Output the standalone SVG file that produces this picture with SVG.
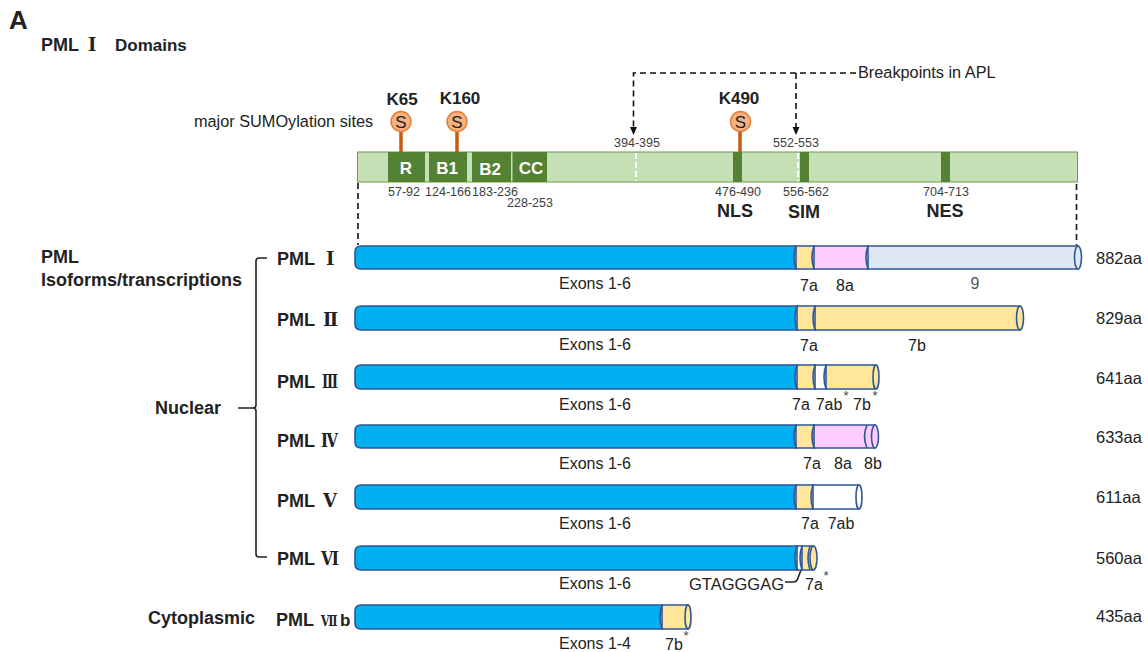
<svg xmlns="http://www.w3.org/2000/svg" width="1148" height="652" viewBox="0 0 1148 652">
<style>
text{font-family:"Liberation Sans",Arial,sans-serif;fill:#222}
.b{font-weight:bold}
.t{font-size:16px;text-anchor:middle}
.n{font-size:12.500px;text-anchor:middle;fill:#404040}
.s{font-size:13px;text-anchor:middle;fill:#404040}
.h{font-size:18px;font-weight:bold}
.d{font-size:18px;font-weight:bold;text-anchor:middle}
.k{font-size:17px;font-weight:bold;text-anchor:middle}
.aa{font-size:16.500px}
.r{font-family:"DejaVu Serif","Noto Sans CJK SC",serif;font-weight:bold;font-size:18px}
.seg{stroke:#2f5597;stroke-width:1.600}
.blue{fill:#00b0f0}.yel{fill:#ffe699}.pink{fill:#ffccff}.wht{fill:#fff}.pale{fill:#dee9f5}
.dom{fill:#548235}
.dash{fill:none;stroke:#111;stroke-width:1.600;stroke-dasharray:6 4}
.line{fill:none;stroke:#222;stroke-width:1.600}
.stick{stroke:#c55a11;stroke-width:3.500}
.sumo{fill:#f4b183;stroke:#ed7d31;stroke-width:1.500}
.lab{font-size:17px;font-weight:bold;fill:#fff;text-anchor:middle}
</style>
<defs>
<marker id="ah" markerWidth="8" markerHeight="8" refX="4" refY="3.500" orient="auto" markerUnits="userSpaceOnUse"><path d="M0 0L8 3.500L0 7Z" fill="#111"/></marker>
</defs>

<g id="titles">
<text x="9" y="29" font-size="26" class="b">A</text>
<text y="51" class="h"><tspan x="41">PML</tspan><tspan class="r" x="88">Ⅰ</tspan><tspan x="115" font-size="17">Domains</tspan></text>
<text x="41" y="263" class="h">PML</text>
<text x="41" y="286" class="h">Isoforms/transcriptions</text>
<text x="155" y="414" class="h">Nuclear</text>
<text x="148" y="624" class="h">Cytoplasmic</text>
<text x="194" y="127" font-size="16.300">major SUMOylation sites</text>
</g>

<g id="connectors">
<path class="dash" d="M856 73H633.500V131" marker-end="url(#ah)"/>
<path class="dash" d="M796 73V131" marker-end="url(#ah)"/>
<path class="dash" d="M358 183V245"/>
<path class="dash" d="M1076.500 184V245"/>
<path class="line" d="M267 258H259Q256 258 256 261V405Q256 408 253 408H238M253 408Q256 408 256 411V554Q256 557 259 557H267"/>
<path class="line" d="M785 582H793Q797 582 798 578L801 570"/>
</g>

<g id="domain-bar">
<rect x="357.500" y="152" width="720" height="30" fill="#c5e0b4" stroke="#6f9a50" stroke-width="1"/>
<rect class="dom" x="388" y="152" width="37" height="30"/>
<rect class="dom" x="429" y="152" width="38" height="30"/>
<rect class="dom" x="472" y="152" width="39" height="30"/>
<rect class="dom" x="512.500" y="152" width="34.500" height="30"/>
<rect class="dom" x="733" y="152" width="9" height="30"/>
<rect class="dom" x="800" y="152" width="9" height="30"/>
<rect class="dom" x="941" y="152" width="9" height="30"/>
<path d="M636 153V181M798 153V181" stroke="#fff" stroke-width="2" stroke-dasharray="6 3"/>
<text class="lab" x="406" y="174">R</text>
<text class="lab" x="447" y="174">B1</text>
<text class="lab" x="490" y="175">B2</text>
<text class="lab" x="531" y="174">CC</text>
</g>

<g id="domain-labels">
<text class="n" x="404" y="196">57-92</text>
<text class="n" x="448" y="196">124-166</text>
<text class="n" x="495" y="196">183-236</text>
<text class="n" x="530" y="207">228-253</text>
<text class="n" x="637" y="147">394-395</text>
<text class="n" x="796" y="147">552-553</text>
<text class="n" x="738" y="196">476-490</text>
<text class="n" x="806" y="196">556-562</text>
<text class="n" x="946" y="196">704-713</text>
<text class="d" x="735" y="217">NLS</text>
<text class="d" x="804" y="218">SIM</text>
<text class="d" x="945" y="217">NES</text>
<text x="858" y="78" font-size="16.300">Breakpoints in APL</text>
</g>

<g id="sumo-k65"><line class="stick" x1="401" y1="131" x2="401" y2="152"/><circle class="sumo" cx="401" cy="121.500" r="10"/><text x="401" y="127.500" font-size="17" text-anchor="middle">S</text><text class="k" x="402" y="105">K65</text></g>
<g id="sumo-k160"><line class="stick" x1="457" y1="131" x2="457" y2="152"/><circle class="sumo" cx="457" cy="121.500" r="10"/><text x="457" y="127.500" font-size="17" text-anchor="middle">S</text><text class="k" x="460" y="104">K160</text></g>
<g id="sumo-k490"><line class="stick" x1="740" y1="131" x2="740" y2="152"/><circle class="sumo" cx="740.500" cy="121.500" r="10"/><text x="740.500" y="127.500" font-size="17" text-anchor="middle">S</text><text class="k" x="739" y="104">K490</text></g>

<g id="pml1">
<text y="265" class="h"><tspan x="277">PML</tspan><tspan class="r" x="326">Ⅰ</tspan></text>
<path class="seg pale" d="M868 246H1078V269H868Z"/><ellipse class="seg pale" cx="1078" cy="257.500" rx="3.500" ry="11.500"/>
<path class="seg pink" d="M814 246H868Q864 257.500 868 269H814Z"/>
<path class="seg yel" d="M796 246H814Q810 257.500 814 269H796Z"/>
<path class="seg blue" d="M361 246H796Q792 257.500 796 269H361Q355 269 355 263V252Q355 246 361 246Z"/>
<text class="t" x="595" y="289">Exons 1-6</text><text class="t" x="809" y="291">7a</text><text class="t" x="845" y="291">8a</text><text class="t" x="975" y="289" style="fill:#555">9</text><text class="aa" x="1096" y="264">882aa</text>
</g>
<g id="pml2">
<text y="326" class="h"><tspan x="277">PML</tspan><tspan class="r" x="323">Ⅱ</tspan></text>
<path class="seg yel" d="M815 306H1020V330H815Z"/><ellipse class="seg yel" cx="1020" cy="318" rx="3.500" ry="12"/>
<path class="seg yel" d="M797 306H815Q811 318 815 330H797Z"/>
<path class="seg blue" d="M361 306H797Q793 318 797 330H361Q355 330 355 324V312Q355 306 361 306Z"/>
<text class="t" x="595" y="350">Exons 1-6</text><text class="t" x="809" y="351">7a</text><text class="t" x="917" y="351">7b</text><text class="aa" x="1096" y="324">829aa</text>
</g>
<g id="pml3">
<text x="277" y="388" class="h">PML</text><text class="r" x="322" y="388" textLength="16" lengthAdjust="spacingAndGlyphs">Ⅲ</text>
<path class="seg yel" d="M826 365H876V389H826Z"/><ellipse class="seg yel" cx="876" cy="377" rx="3" ry="12"/>
<path class="seg wht" d="M815 365H826Q822 377 826 389H815Z"/>
<path class="seg yel" d="M797 365H815Q811 377 815 389H797Z"/>
<path class="seg blue" d="M361 365H797Q793 377 797 389H361Q355 389 355 383V371Q355 365 361 365Z"/>
<text class="t" x="595" y="410">Exons 1-6</text><text class="t" x="801" y="410">7a</text><text class="t" x="829" y="410">7ab</text><text class="t" x="862" y="410">7b</text><text class="s" x="846" y="400">*</text><text class="s" x="875" y="400">*</text><text class="aa" x="1096" y="384">641aa</text>
</g>
<g id="pml4">
<text x="277" y="447" class="h">PML</text><text class="r" x="321" y="447" textLength="17" lengthAdjust="spacingAndGlyphs">Ⅳ</text>
<path class="seg pink" d="M814 425H875V448H814Z"/><ellipse class="seg pink" cx="875" cy="436.500" rx="3.500" ry="11.500"/>
<path d="M867 425Q862 436.500 867 448" class="seg" fill="none"/>
<path class="seg yel" d="M796 425H814Q810 436.500 814 448H796Z"/>
<path class="seg blue" d="M361 425H796Q792 436.500 796 448H361Q355 448 355 442V431Q355 425 361 425Z"/>
<text class="t" x="595" y="469">Exons 1-6</text><text class="t" x="812" y="469">7a</text><text class="t" x="843" y="469">8a</text><text class="t" x="873" y="469">8b</text><text class="aa" x="1096" y="443">633aa</text>
</g>
<g id="pml5">
<text y="507" class="h"><tspan x="277">PML</tspan><tspan class="r" x="323">Ⅴ</tspan></text>
<path class="seg wht" d="M813 485H859V509H813Z"/><ellipse class="seg wht" cx="859" cy="497" rx="3" ry="12"/>
<path class="seg yel" d="M796 485H813Q809 497 813 509H796Z"/>
<path class="seg blue" d="M361 485H796Q792 497 796 509H361Q355 509 355 503V491Q355 485 361 485Z"/>
<text class="t" x="595" y="529">Exons 1-6</text><text class="t" x="810" y="529">7a</text><text class="t" x="841" y="529">7ab</text><text class="aa" x="1096" y="503">611aa</text>
</g>
<g id="pml6">
<text x="277" y="565" class="h">PML</text><text class="r" x="321" y="565" textLength="18" lengthAdjust="spacingAndGlyphs">Ⅵ</text>
<path class="seg yel" d="M802 546H813V570H802Z"/><ellipse class="seg yel" cx="813.500" cy="558" rx="3.500" ry="12"/>
<path class="seg" fill="none" d="M810 546Q806 558 810 570"/>
<path class="seg wht" d="M797 546H802Q798 558 802 570H797Z"/>
<path class="seg blue" d="M361 546H797Q793 558 797 570H361Q355 570 355 564V552Q355 546 361 546Z"/>
<text class="t" x="595" y="589">Exons 1-6</text><text x="689" y="590" font-size="16.500">GTAGGGAG</text><text class="t" x="814" y="590">7a</text><text class="s" x="826" y="580">*</text><text class="aa" x="1096" y="564">560aa</text>
</g>
<g id="pml7">
<text x="276" y="626" class="h">PML</text><text class="r" transform="translate(321 626) scale(0.72 1)" font-size="15" style="font-size:15px">Ⅶ</text><text x="340" y="626" class="h" style="font-size:17px">b</text>
<path class="seg yel" d="M662 605H688V629H662Z"/><ellipse class="seg yel" cx="688" cy="617" rx="3" ry="12"/>
<path class="seg blue" d="M361 605H662Q658 617 662 629H361Q355 629 355 623V611Q355 605 361 605Z"/>
<text class="t" x="595" y="649">Exons 1-4</text><text class="t" x="674" y="650">7b</text><text class="s" x="686" y="640">*</text><text class="aa" x="1096" y="622">435aa</text>
</g>
</svg>
